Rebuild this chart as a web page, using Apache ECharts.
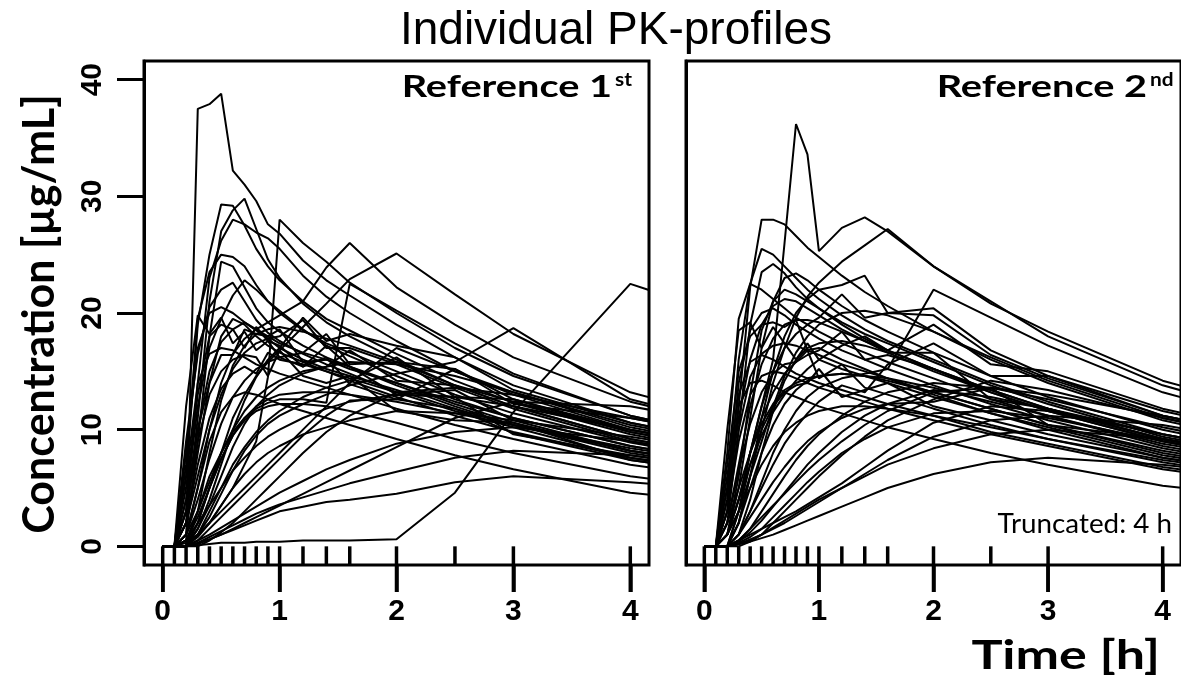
<!DOCTYPE html>
<html>
<head>
<meta charset="utf-8">
<script src="https://cdn.jsdelivr.net/npm/echarts@6/dist/echarts.min.js"></script>
<style>
  html, body { margin: 0; padding: 0; background: #fff; }
  #chart { width: 1181px; height: 680px; }
</style>
</head>
<body>
<div id="chart"></div>
<script>
// Sampling schedule (h) shared by both reference periods
const sampleTimes = [0, 0.1, 0.2, 0.3, 0.4, 0.5, 0.6, 0.7, 0.8, 0.9, 1, 1.2, 1.4, 1.6, 2, 2.5, 3, 4, 6];

// Axis ticks
const timeTicks = [0, 1, 2, 3, 4];
const concTicks = [0, 10, 20, 30, 40];

// Individual concentrations (µg/mL), one row per subject, one value per sampling time
const reference1st = [
  [0,0,0,37.5,37.9,38.8,32.2,31.0,29.6,27.6,26.8,24.5,22.8,21.5,19.0,16.2,13.8,10.6,6.4],
  [0,0,6,19,25,29.3,29.2,27.5,25.5,24.0,22.8,21.0,19.5,18.5,16.5,14.2,12.3,9.6,5.8],
  [0,0,2,11,21,27,28.8,29.8,27.2,24.6,23.0,20.8,19.2,18.0,16.0,13.8,12.0,9.2,5.6],
  [0,0,3,14,23,26.2,28.0,27.6,26.9,26.4,25.5,23.2,21.4,20.0,17.6,15.0,13.0,10.0,6.2],
  [0,0,7,19.5,23.5,25.0,24.8,24.0,22.4,21.0,20.2,18.6,17.2,16.3,14.6,12.6,11.0,8.6,5.2],
  [0,0,1,9,18,24.4,24.0,22.2,20.4,19.2,18.4,17.2,16.2,15.4,13.8,12.0,10.4,8.2,5.0],
  [0,0,9,16.5,20.5,22.0,22.6,21.0,19.4,18.3,17.6,16.5,15.6,14.8,13.2,11.6,10.2,7.6,4.6],
  [0,0,4,12,17,19.5,21.5,22.8,22.0,21.0,20.0,18.5,17.4,16.6,15.0,13.0,11.4,8.9,5.4],
  [0,0,12,19.8,18.2,19.6,17.4,18.4,16.8,17.6,16.2,15.4,16.2,13.9,12.6,11.8,9.7,7.4,4.5],
  [0,0,3,10,15,17.5,18.6,19.2,18.5,17.8,17.0,16.0,15.2,14.6,13.4,11.8,10.4,8.0,4.9],
  [0,0,0,1,2,3.5,5,7,9,14.5,28.0,26.0,24.4,22.6,20.0,17.0,14.6,11.2,6.8],
  [0,0,1,5,10,14,16.5,17.8,18.6,19.2,19.8,21.0,23.9,26.0,22.2,19.0,16.2,12.4,7.6],
  [0,0,0,2,5,8,11,13,14.6,15.8,16.8,18.8,20.8,22.9,25.1,21.6,18.2,13.2,8.0],
  [0,0,0.5,3,6,8,9.8,11,11.8,12.3,12.6,12.6,12.3,22.5,20.2,17.4,14.8,11.2,6.8],
  [0,0,0,1,2.5,4.5,6.5,8.2,9.5,10.5,11.2,12.2,13.0,13.8,14.8,15.8,18.7,12.6,7.6],
  [0,0,0,0.1,0.2,0.3,0.3,0.3,0.4,0.4,0.4,0.5,0.5,0.5,0.6,4.6,11.5,22.5,15.9],
  [0,0,0,0.5,1,1.6,2.2,2.8,3.4,4.0,4.6,5.6,6.6,7.4,8.8,9.8,10.2,9.0,6.0],
  [0,0,0.5,2,3.5,5,6.5,7.6,8.6,9.4,10.0,11.0,11.8,12.4,13.0,12.8,12.0,10.0,6.5],
  [0,0,1,4,7.5,10.5,12.8,14.2,15.2,15.8,16.2,16.6,18.2,15.6,15.8,15.2,12.6,9.8,6.0],
  [0,0,2,6,10,13,15.2,16.6,17.4,17.8,18.0,19.4,17.0,17.0,15.6,13.6,11.8,9.0,5.5],
  [0,0,0,1.5,3.5,6,8.5,10.5,12,13,13.8,14.8,15.4,15.8,15.6,14.6,13.2,10.4,6.6],
  [0,0,0,0.5,1.5,2.5,3.5,4.5,5.5,6.5,7.5,9.5,11.2,12.5,12.6,15.2,12.2,11.0,7.4],
  [0,0,0.3,1,2,3,4,5,6,7,8,10,12,14,17,15,13.2,10.2,6.4],
  [0,0,5,13,18,19,18.6,17.0,18.8,17.6,17.2,15.4,17.2,15.4,13.0,13.4,10.8,8.2,5.0],
  [0,0,0,3,8,12.5,15.5,17.2,18.2,18.6,18.8,18.4,17.8,17.2,15.8,13.8,12.0,9.2,5.6],
  [0,0,6,14,16.5,17.0,16.8,16.2,15.6,15.2,14.8,14.2,13.6,13.0,11.8,10.4,9.2,7.0,4.2],
  [0,0,2,7,11,13.5,14.8,15.4,14.8,16.6,16.0,15.6,15.0,14.4,13.2,12.8,9.6,7.8,4.8],
  [0,0,0,1,3,5,7,8.5,9.8,10.8,11.6,12.8,13.6,14.2,16.2,12.8,12.6,10.0,6.4],
  [0,0,0,0.3,0.8,1.3,1.8,2.3,2.8,3.2,3.6,4.2,4.8,5.4,6.4,7.6,8.2,7.8,5.4],
  [0,0,0,0.2,0.6,1.0,1.4,1.8,2.2,2.6,3.0,3.4,3.8,4.0,4.5,5.5,6.0,5.5,3.8],
  [0,0,1,5,9,11.5,12.8,13.2,13.0,12.6,12.2,11.6,11.0,10.4,9.2,7.8,6.6,4.6,2.6],
  [0,0,0,2,5,7.5,9.5,10.8,11.6,12.0,12.2,12.2,12.0,11.6,10.6,9.2,8.0,6.0,3.6],
  [0,0,3,9,13,15,16,16.4,16.2,14.6,16.8,14.6,14.0,14.6,11.6,10.8,10.6,7.4,4.5],
  [0,0,0,0.8,2,3.5,5,6.2,7.2,8.0,8.6,9.6,10.2,10.8,11.6,11.4,10.8,9.4,6.2],
  [0,0,1,3,5.5,8,10,11.6,12.8,13.6,14.2,15.0,15.4,16.8,14.2,13.8,12.4,9.8,6.2],
  [0,0,4,10,14,16.4,16.4,18.6,18.2,18.0,18.6,15.8,16.0,15.4,14.0,12.2,10.6,8.2,5.0],
  [0,0,0,0,0.5,1.2,2,3,4,5,6,8,9.8,11.2,13.2,13.6,13.0,11.0,7.2],
  [0,0,2,8,14,18,19.5,19.0,18.0,17.2,16.6,15.8,15.0,14.2,12.8,11.2,9.8,7.6,4.6],
  [0,0,0,1.5,4,7,10,12.5,14.5,16,17,19.6,17.6,18.2,17.2,16.2,13.4,10.6,6.8],
  [0,0,0.5,2.5,5,7.5,9.5,11,12,12.6,13,13.2,13.2,13,12.4,11.4,10.4,8.4,5.4],
  [0,0,0,0.3,0.6,1,1.5,2,2.5,3,3.5,4.5,5.5,6.5,8.5,11,12.4,12.0,8.4],
  [0,0,8,17,20,20.5,20,19.2,18.6,18.0,17.4,16.6,16.0,15.2,14.0,12.4,11.0,8.6,5.2]
];

const reference2nd = [
  [0,0,1,4,8,12,16,26.0,36.2,33.6,25.3,27.3,28.2,27.0,24.0,21.0,18.0,13.8,8.4],
  [0,0,3,12,22.2,28.0,28.0,27.6,26.6,25.6,24.8,23.2,21.8,20.6,18.4,16.0,14.0,10.8,6.6],
  [0,0,0,2,6,10,14,17,19.6,21.4,22.6,24.4,25.8,27.2,24.0,20.8,18.4,14.2,8.8],
  [0,0,0,1,3,5.5,8,10,11.6,12.8,13.6,14.4,14.8,15.2,22.0,19.6,17.2,13.2,8.0],
  [0,0,5,16,22.5,25.5,25.0,24.0,23.0,22.0,21.2,19.8,18.6,17.6,16.0,14.0,12.4,9.6,5.8],
  [0,0,2,10,19,23.5,24.2,23.4,22.2,21.2,20.4,19.0,17.8,16.8,15.2,13.4,11.8,9.2,5.6],
  [0,0,8,19.5,22.5,22.0,21.2,20.4,19.6,19.0,18.4,17.4,16.6,15.8,14.4,12.6,11.2,8.6,5.2],
  [0,0,1,6,13,18.5,21.0,22.0,21.6,21.0,20.4,19.2,18.2,17.4,15.8,13.8,12.2,9.4,5.8],
  [0,0,4,14,18.5,20.0,20.4,19.8,19.0,18.4,17.8,16.8,16.0,15.2,13.8,12.2,10.8,8.4,5.0],
  [0,0,0,3,8,12,15,17,18.2,19.0,19.6,21.6,19.6,20.0,19.8,16.4,14.4,11.2,7.0],
  [0,0,1,4,7,9.5,11.5,13,14.2,15.2,16.0,17.2,18.0,16.8,19.0,15.6,15.0,11.8,7.4],
  [0,0,3,10,14.5,16.5,17.2,17.4,17.2,16.8,16.4,15.6,15.0,14.4,13.2,11.8,10.4,8.0,4.8],
  [0,0,0,1,3,5,7,8.8,10.2,11.4,12.4,13.8,13.2,15.6,17.4,14.6,14.6,11.6,7.4],
  [0,0,0,0.5,1.5,2.5,3.5,4.5,5.5,6.5,7.4,9.0,10.4,11.6,13.2,13.6,13.0,11.2,7.4],
  [0,0,0,0.2,0.6,1.0,1.5,2.0,2.6,3.2,3.8,5.0,6.2,7.4,9.4,10.8,11.2,10.4,7.0],
  [0,0,0,0.2,0.4,0.7,1.0,1.4,1.8,2.2,2.6,3.4,4.2,5.0,6.2,7.2,7.6,7.0,4.8],
  [0,0,2,6.5,10.5,13.2,14.8,15.6,15.8,16.8,14.4,15.6,13.6,13.0,11.8,10.4,9.2,7.2,4.4],
  [0,0,6,13,15.8,16.4,16.0,15.4,14.8,14.4,14.0,13.4,12.8,12.2,11.2,9.8,8.8,6.8,4.0],
  [0,0,1,4,8,11,13.2,14.8,15.8,16.4,16.8,18.4,16.0,16.4,15.2,13.4,11.8,9.2,5.6],
  [0,0,0,2,5,8,10.4,12.2,13.4,14.2,14.6,14.8,14.6,14.2,13.2,11.8,10.4,8.2,5.0],
  [0,0,10,18.5,19.2,17.0,18.8,17.4,16.0,17.4,16.0,15.2,14.6,14.0,12.8,11.4,10.2,7.8,4.8],
  [0,0,0,0.5,1.5,3,4.5,6,7.4,8.6,9.6,11.2,12.4,13.2,14.0,13.6,12.6,10.2,6.4],
  [0,0,1,3,5,7,8.6,9.8,10.6,11.2,11.6,12.0,12.0,11.8,11.2,10.2,9.2,7.4,4.6],
  [0,0,0,1,2.5,4,5.5,6.8,8,9,9.8,11,11.8,12.2,12.4,13.6,10.4,9.2,6.0],
  [0,0,3,9,13,14.6,15.0,14.8,14.4,14.0,13.6,13.0,12.4,11.8,10.8,9.6,8.6,6.6,4.0],
  [0,0,0,0,0.4,1,2,3,4,5,6,7.8,9.4,10.8,12.6,14.2,13.4,11.0,7.2],
  [0,0,0,0.4,1.2,2.2,3.4,4.6,5.8,7,8,9.8,11.2,12.2,13.4,12.8,11.8,9.6,6.2],
  [0,0,5,12,14,14.2,13.8,13.2,12.8,12.4,12.0,11.4,10.8,10.2,9.2,8.0,7.0,5.2,3.0],
  [0,0,0,3,7,10,12,13.2,13.8,14.0,15.2,12.8,13.4,14.0,12.0,10.8,9.6,7.6,4.6],
  [0,0,2,5,8,10.5,12.2,13.4,14.0,14.4,14.6,14.8,14.6,14.4,13.6,12.4,11.2,8.8,5.4],
  [0,0,0,0.5,1,1.5,2,2.5,3,3.6,4.2,5.4,6.8,8.2,10.6,12.0,11.6,9.6,6.2],
  [0,0,4,11,16,19,20.6,21.2,21.0,20.4,19.8,18.6,17.6,16.6,15.0,13.2,11.6,9.0,5.4],
  [0,0,0,2,6,11,15,18,20,21.2,22.0,22.4,23.2,20.0,20.4,16.8,14.6,11.2,7.0],
  [0,0,1,3,6,9,12,14.6,16.6,18.0,19.0,20.0,20.2,19.8,18.4,16.2,14.2,11.0,6.8],
  [0,0,0,0.3,0.8,1.5,2.5,3.5,4.5,5.5,6.4,8,9.2,10.2,11.4,11.6,11.0,9.0,5.8],
  [0,0,7,15,18,19,19.2,18.8,19.4,16.8,17.0,16.0,15.2,14.4,13.0,11.4,10.0,7.6,4.6],
  [0,0,0,1,4,8,11.6,14.2,16.0,17.0,17.4,17.6,17.2,16.6,16.6,12.6,11.8,9.2,5.6],
  [0,0,2,7,12,15.6,17.8,19.0,19.4,19.4,19.2,18.4,17.6,16.8,15.2,13.2,11.6,9.0,5.4],
  [0,0,0,0.2,0.5,1,1.6,2.2,2.8,3.4,4,5,6,7,8.4,9.6,10.0,9.2,6.2],
  [0,0,1,5,11,17,21,23.0,23.4,22.8,22.0,20.6,19.4,18.4,16.6,14.6,12.8,10.0,6.0]
];

// Axis extents (4 % padding around 0-4 h and 0-40 µg/mL)
const X_MIN = -0.16, X_MAX = 4.16;
const Y_MIN = -1.6, Y_MAX = 41.6;

const tickFont = { fontFamily: 'Liberation Sans', fontWeight: 'bold', fontSize: 30, color: '#000' };
const blackLine = { color: '#000', width: 3 };
const hiddenLine = { color: 'rgba(255,255,255,0)', width: 1 };

// Panel frames (grids 0, 1) and the thin strips below them that carry the time ticks (grids 2, 3)
const PANEL_LEFT = [144, 686];
const PANEL_TOP = 61, PANEL_W = 505, PANEL_H = 504, TICK_LEN = 27;

function profileSeries(rows, panel) {
  return rows.map(function (row) {
    return {
      type: 'line',
      xAxisIndex: panel,
      yAxisIndex: panel,
      data: sampleTimes.map(function (t, i) { return [t, row[i]]; }),
      symbol: 'none',
      showSymbol: false,
      clip: true,
      silent: true,
      animation: false,
      lineStyle: { color: '#000', width: 2 },
      z: 2
    };
  });
}

// Vertical tick segments at the given x values, spanning yFrom..yTo of the axis pair
function tickSeries(axisIndex, values, yFrom, yTo, width) {
  return {
    type: 'custom',
    xAxisIndex: axisIndex,
    yAxisIndex: axisIndex,
    silent: true,
    animation: false,
    clip: false,
    z: 3,
    data: values.map(function (t) { return [t]; }),
    renderItem: function (params, api) {
      const t = api.value(0);
      const p0 = api.coord([t, yFrom]);
      const p1 = api.coord([t, yTo]);
      return {
        type: 'line',
        shape: { x1: p0[0], y1: p0[1], x2: p1[0], y2: p1[1] },
        style: { stroke: '#000', lineWidth: width }
      };
    }
  };
}

function panelXAxis(grid) {
  return {
    type: 'value',
    gridIndex: grid,
    min: X_MIN,
    max: X_MAX,
    position: 'bottom',
    axisLine: { show: false, onZero: false },
    splitLine: { show: false },
    axisTick: { show: false },
    axisLabel: { show: false }
  };
}

// Time axis drawn along the bottom of each tick strip: ticks point up to the frame
function stripXAxis(grid) {
  return {
    type: 'value',
    gridIndex: grid,
    min: X_MIN,
    max: X_MAX,
    position: 'bottom',
    axisLine: { show: true, onZero: false, lineStyle: hiddenLine },
    splitLine: { show: false },
    axisTick: { show: true, inside: true, length: TICK_LEN, customValues: timeTicks, lineStyle: { color: '#000', width: 3.5 } },
    axisLabel: Object.assign({ show: true, margin: 5, customValues: timeTicks }, tickFont)
  };
}

function yAxisFor(grid, withLabels) {
  return {
    type: 'value',
    gridIndex: grid,
    min: Y_MIN,
    max: Y_MAX,
    position: 'left',
    axisLine: { show: true, onZero: false, lineStyle: blackLine },
    splitLine: { show: false },
    axisTick: { show: withLabels, inside: false, length: TICK_LEN, customValues: concTicks, lineStyle: { color: '#000', width: 3 } },
    axisLabel: Object.assign({ show: withLabels, rotate: 90, margin: 36, customValues: concTicks }, tickFont)
  };
}

function stripYAxis(grid) {
  return { type: 'value', gridIndex: grid, min: 0, max: 1, show: false };
}

const visibleSamples = sampleTimes.filter(function (t) { return t <= X_MAX; });

const chart = echarts.init(document.getElementById('chart'), null, { renderer: 'canvas' });

chart.setOption({
  animation: false,
  backgroundColor: '#fff',
  grid: [
    { left: PANEL_LEFT[0], top: PANEL_TOP, width: PANEL_W, height: PANEL_H, show: true, borderColor: '#000', borderWidth: 3, backgroundColor: 'transparent' },
    { left: PANEL_LEFT[1], top: PANEL_TOP, width: PANEL_W, height: PANEL_H, show: true, borderColor: '#000', borderWidth: 3, backgroundColor: 'transparent' },
    { left: PANEL_LEFT[0], top: PANEL_TOP + PANEL_H, width: PANEL_W, height: TICK_LEN, show: false },
    { left: PANEL_LEFT[1], top: PANEL_TOP + PANEL_H, width: PANEL_W, height: TICK_LEN, show: false }
  ],
  xAxis: [panelXAxis(0), panelXAxis(1), stripXAxis(2), stripXAxis(3)],
  yAxis: [yAxisFor(0, true), yAxisFor(1, false), stripYAxis(2), stripYAxis(3)],
  series: []
    .concat(profileSeries(reference1st, 0))
    .concat(profileSeries(reference2nd, 1))
    .concat([
      tickSeries(0, visibleSamples, Y_MIN, 0, 3.5),
      tickSeries(1, visibleSamples, Y_MIN, 0, 3.5),
      tickSeries(2, timeTicks, 0, 1, 3.5),
      tickSeries(3, timeTicks, 0, 1, 3.5)
    ]),
  graphic: [
    { type: 'text', x: 616, y: 31, style: { text: 'Individual PK-profiles', font: '46px "Liberation Sans"', fill: '#000', align: 'center', verticalAlign: 'middle' } },
    { type: 'text', x: 40, y: 314, rotation: Math.PI / 2, style: { text: 'Concentration [µg/mL]', font: 'bold 43px Lato', fill: '#000', align: 'center', verticalAlign: 'middle' } },
    { type: 'text', x: 1160, y: 656, scaleX: 1.3, style: { text: 'Time [h]', font: 'bold 40px Lato', fill: '#000', align: 'right', verticalAlign: 'middle' } },
    { type: 'text', x: 612, y: 87, scaleX: 1.28, style: { text: 'Reference 1', font: 'bold 31px Lato', fill: '#000', align: 'right', verticalAlign: 'middle' } },
    { type: 'text', x: 615, y: 80, scaleX: 1.1, style: { text: 'st', font: 'bold 19px Lato', fill: '#000', align: 'left', verticalAlign: 'middle' } },
    { type: 'text', x: 1147, y: 87, scaleX: 1.28, style: { text: 'Reference 2', font: 'bold 31px Lato', fill: '#000', align: 'right', verticalAlign: 'middle' } },
    { type: 'text', x: 1150, y: 80, scaleX: 1.1, style: { text: 'nd', font: 'bold 19px Lato', fill: '#000', align: 'left', verticalAlign: 'middle' } },
    { type: 'text', x: 1172, y: 524, scaleX: 1.03, style: { text: 'Truncated: 4 h', font: '27px Lato', fill: '#000', align: 'right', verticalAlign: 'middle' } }
  ]
});
</script>
</body>
</html>
